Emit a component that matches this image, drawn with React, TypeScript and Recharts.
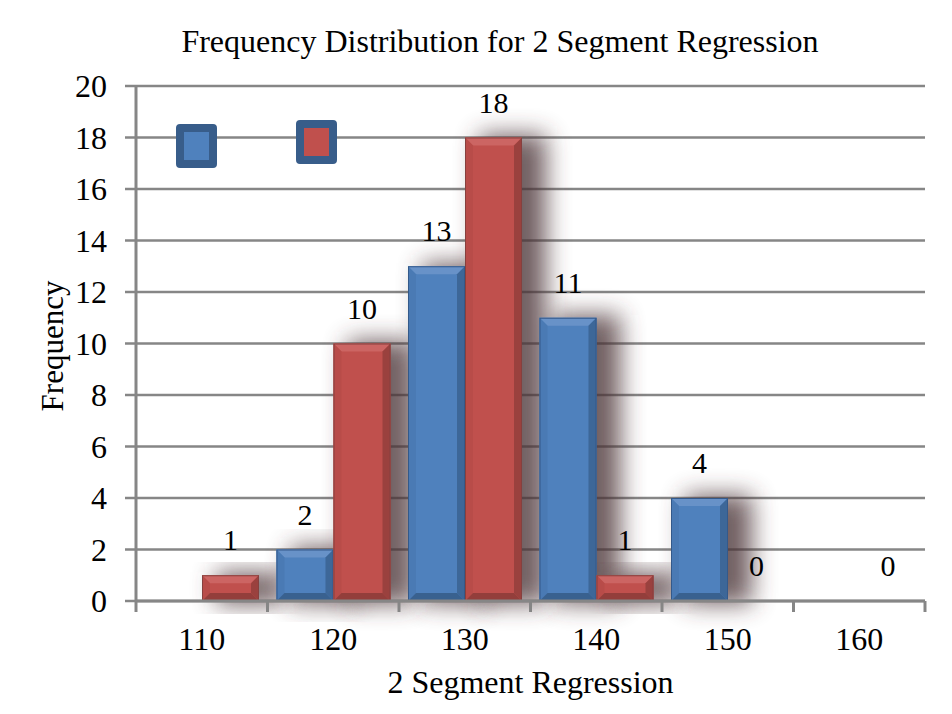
import { BarChart, Bar, XAxis, YAxis, CartesianGrid, Legend, LabelList, Label } from 'recharts'

const CATEGORIES = ['110', '120', '130', '140', '150', '160']
const BLUE_VALUES: (number | null)[] = [null, 2, 13, 11, 4, null]
const RED_VALUES: (number | null)[] = [1, 10, 18, 1, 0, 0]
const Y_TICKS = [0, 2, 4, 6, 8, 10, 12, 14, 16, 18, 20]

const data = CATEGORIES.map((cat, i) => ({ cat, blue: BLUE_VALUES[i], red: RED_VALUES[i] }))

const W = 944
const H = 700
const MARGIN = { top: 78, right: 27, bottom: 47, left: 68 }
const Y_WIDTH = 60
const X_HEIGHT = 60
const PLOT_LEFT = MARGIN.left + Y_WIDTH
const PLOT_W = W - PLOT_LEFT - MARGIN.right
const BAND = PLOT_W / CATEGORIES.length

const FONT = "'Liberation Serif', 'DejaVu Serif', serif"
const GRID = '#868686'
const BLUE = { main: '#4F81BD', top: '#6892c8', left: '#4a7ab4', right: '#3d6798', bottom: '#39618f', edge: '#34598a' }
const RED = { main: '#C0504D', top: '#cc6563', left: '#b84c49', right: '#9a413e', bottom: '#933e3b', edge: '#86403e' }

type Palette = typeof BLUE

function BevelBar(props: any) {
  const { x, y, width: w, height: h, value, c } = props as { x: number; y: number; width: number; height: number; value: any; c: Palette }
  if (value == null || !h || h <= 0) return null
  const b = Math.min(8, h / 2, w / 2)
  return (
    <g>
      <rect x={x} y={y} width={w} height={h} fill={c.main} />
      <polygon points={`${x},${y} ${x + w},${y} ${x + w - b},${y + b} ${x + b},${y + b}`} fill={c.top} />
      <polygon points={`${x},${y} ${x + b},${y + b} ${x + b},${y + h - b} ${x},${y + h}`} fill={c.left} />
      <polygon points={`${x + w},${y} ${x + w - b},${y + b} ${x + w - b},${y + h - b} ${x + w},${y + h}`} fill={c.right} />
      <polygon points={`${x},${y + h} ${x + w},${y + h} ${x + w - b},${y + h - b} ${x + b},${y + h - b}`} fill={c.bottom} />
      <rect x={x + 0.5} y={y + 0.5} width={w - 1} height={h - 1} fill="none" stroke={c.edge} strokeWidth={1} />
    </g>
  )
}

function ShadowBar(props: any) {
  const { x, y, width, height, value } = props
  if (value == null || !height || height <= 0) return null
  return (
    <rect
      x={x + 14}
      y={y - 3}
      width={width + 10}
      height={height + 6}
      fill="#4a3034"
      opacity={0.78}
      filter="url(#barShadow)"
    />
  )
}

function ValueLabel(props: any) {
  const { x, y, width, value } = props
  if (value == null) return null
  return (
    <text x={x + width / 2} y={y - 25} textAnchor="middle" fontSize={30} fontFamily={FONT} fill="#000">
      {value}
    </text>
  )
}

function XTick(props: any) {
  const { x, y, payload, index } = props
  const axisY = y
  return (
    <g>
      <line x1={x - BAND / 2} x2={x - BAND / 2} y1={axisY} y2={axisY + 11} stroke={GRID} strokeWidth={3} />
      {index === CATEGORIES.length - 1 && (
        <line x1={x + BAND / 2} x2={x + BAND / 2} y1={axisY} y2={axisY + 11} stroke={GRID} strokeWidth={3} />
      )}
      <text x={x} y={axisY + 49} textAnchor="middle" fontSize={32} fontFamily={FONT} fill="#000">
        {payload.value}
      </text>
    </g>
  )
}

function LegendBoxes({ payload }: { payload?: any[] }) {
  if (!payload) return null
  let items = payload.filter((p) => p.type !== 'none')
  if (items.length > 2) items = items.slice(-2)
  return (
    <div style={{ position: 'relative', height: 0 }}>
      {items.map((item, i) => (
        <span
          key={i}
          style={{
            position: 'absolute',
            left: i * 120,
            top: i === 0 ? 4 : 0,
            width: 25,
            height: 28,
            background: item.dataKey === 'blue' ? BLUE.main : RED.main,
            border: '8.5px solid #385D8A',
            borderRadius: 4,
          }}
        />
      ))}
    </div>
  )
}

export default function App() {
  return (
    <div style={{ position: 'relative', width: W, height: H, fontFamily: FONT }}>
      <div
        style={{
          position: 'absolute',
          left: 92,
          top: 15,
          width: 800,
          textAlign: 'center',
          whiteSpace: 'nowrap',
          fontSize: 32,
          lineHeight: '36px',
          color: '#000',
          zIndex: 2,
        }}
      >
        Frequency Distribution for 2 Segment Regression
      </div>
      <BarChart width={W} height={H} data={data} margin={MARGIN} barCategoryGap={9} barGap={0}>
        <defs>
          <filter id="barShadow" x="-80%" y="-30%" width="260%" height="160%">
            <feGaussianBlur stdDeviation="12" />
          </filter>
        </defs>
        <CartesianGrid vertical={false} stroke={GRID} strokeWidth={2.5} />
        <XAxis
          dataKey="cat"
          height={X_HEIGHT}
          interval={0}
          tickLine={false}
          tickSize={0}
          tickMargin={0}
          axisLine={{ stroke: GRID, strokeWidth: 3 }}
          tick={<XTick />}
        >
          <Label
            content={() => (
              <text x={PLOT_LEFT + PLOT_W / 2} y={685} textAnchor="middle" fontSize={32} fontFamily={FONT} fill="#000">
                2 Segment Regression
              </text>
            )}
          />
        </XAxis>
        <XAxis xAxisId="s" dataKey="cat" hide />
        <YAxis
          width={Y_WIDTH}
          domain={[0, 20]}
          ticks={Y_TICKS}
          interval={0}
          tickSize={11}
          tickMargin={18}
          tickLine={{ stroke: GRID, strokeWidth: 2.5 }}
          axisLine={{ stroke: GRID, strokeWidth: 3 }}
          tick={{ fontSize: 32, fontFamily: FONT, fill: '#000' }}
        >
          <Label
            content={() => (
              <text
                x={44}
                y={338}
                transform="rotate(-90 44 338)"
                textAnchor="middle"
                dominantBaseline="central"
                fontSize={31}
                fontFamily={FONT}
                fill="#000"
              >
                Frequency
              </text>
            )}
          />
        </YAxis>
        <Legend
          wrapperStyle={{ position: 'absolute', left: 168, top: 112, width: 200, height: 0 }}
          content={(p: any) => <LegendBoxes payload={p.payload} />}
        />
        <Bar xAxisId="s" dataKey="blue" legendType="none" isAnimationActive={false} shape={<ShadowBar />} />
        <Bar xAxisId="s" dataKey="red" legendType="none" isAnimationActive={false} shape={<ShadowBar />} />
        <Bar dataKey="blue" fill={BLUE.main} isAnimationActive={false} shape={(p: any) => <BevelBar {...p} c={BLUE} />}>
          <LabelList dataKey="blue" content={<ValueLabel />} />
        </Bar>
        <Bar dataKey="red" fill={RED.main} isAnimationActive={false} shape={(p: any) => <BevelBar {...p} c={RED} />}>
          <LabelList dataKey="red" content={<ValueLabel />} />
        </Bar>
      </BarChart>
    </div>
  )
}
